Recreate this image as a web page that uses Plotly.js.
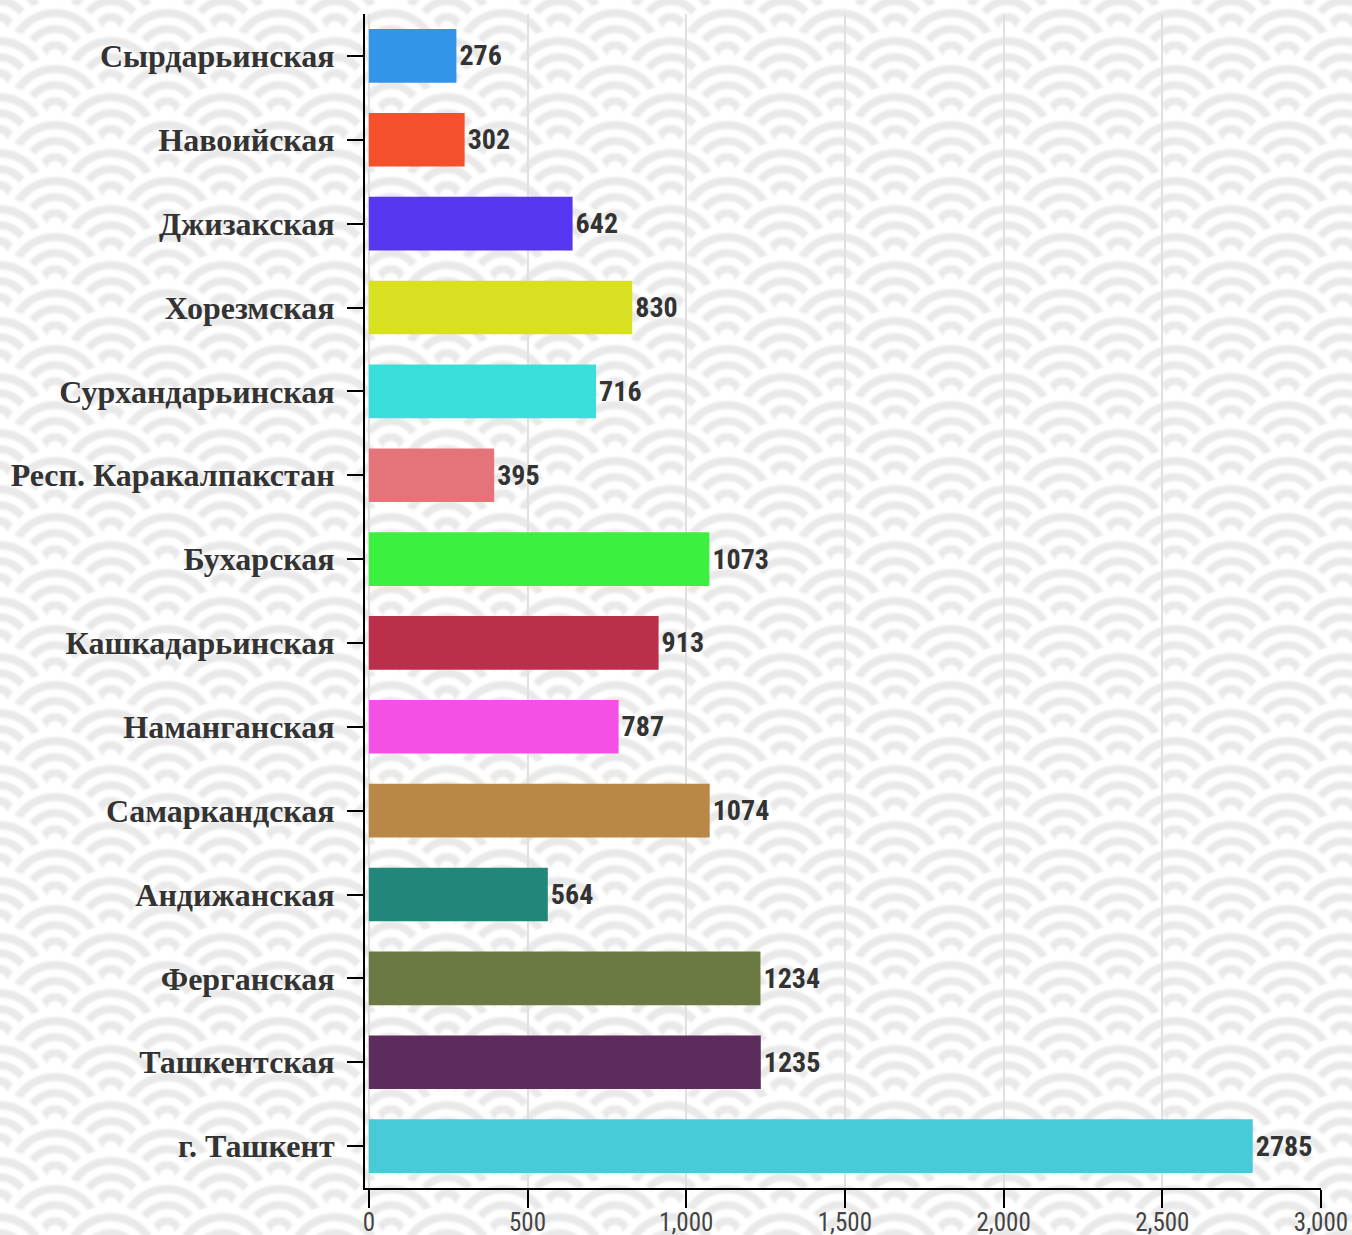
<!DOCTYPE html>
<html>
<head>
<meta charset="utf-8">
<script src="https://cdn.plot.ly/plotly-3.0.1.min.js"></script>
<style>
  html, body { margin: 0; padding: 0; background: #fafafa; }
  body { width: 1352px; height: 1235px; overflow: hidden; position: relative; }
  #bgwrap { position: absolute; left: 0; top: 0; width: 1352px; height: 1235px; overflow: hidden; }
  #bg { position: absolute; left: -4px; top: -4px; width: 1360px; height: 1243px; filter: blur(0.9px); }
  #chart { position: absolute; left: 0; top: 0; width: 1352px; height: 1235px; }
</style>
</head>
<body>
<div id="bgwrap"><div id="bg"></div></div>
<div id="chart"></div>
<script>
const categories = [
  "Сырдарьинская", "Навоийская", "Джизакская", "Хорезмская", "Сурхандарьинская",
  "Респ. Каракалпакстан", "Бухарская", "Кашкадарьинская", "Наманганская",
  "Самаркандская", "Андижанская", "Ферганская", "Ташкентская", "г. Ташкент"
];
const values = [276, 302, 642, 830, 716, 395, 1073, 913, 787, 1074, 564, 1234, 1235, 2785];
const barColors = [
  "#3395e8", "#f5502c", "#5636ee", "#d9e022", "#3adfdb", "#e5737a", "#3cf040",
  "#bb2f4a", "#f550e5", "#b98846", "#22877a", "#6b7a42", "#5c2c5c", "#48cbd8"
];
const xTickVals = [0, 500, 1000, 1500, 2000, 2500, 3000];
const xTickText = ["0", "500", "1,000", "1,500", "2,000", "2,500", "3,000"];

// Seigaiha background pattern (decorative)
(function () {
  const W = 112, H = 56, R = 56, band = 8;
  const gray = "#e9e9e9", white = "#ffffff";
  const centers = [[0,0],[W,0],[W/2,H/2],[0,H],[W,H],[W/2,H*1.5],[0,H*2],[W,H*2]];
  let s = `<svg xmlns='http://www.w3.org/2000/svg' width='${W}' height='${H}'>`;
  for (const [cx, cy] of centers) {
    for (let r = R, k = 0; r > 0; r -= band, k++) {
      s += `<circle cx='${cx}' cy='${cy}' r='${r}' fill='${k % 2 === 0 ? white : gray}'/>`;
    }
  }
  s += `</svg>`;
  const bg = document.getElementById("bg");
  bg.style.backgroundImage = `url("data:image/svg+xml,${encodeURIComponent(s)}")`;
  bg.style.backgroundPosition = "59px 5px";
})();

const condensed = "'Roboto Condensed', 'Liberation Sans Narrow', 'DejaVu Sans Condensed', Roboto, sans-serif";

const trace = {
  type: "bar",
  orientation: "h",
  y: categories,
  x: values,
  marker: { color: barColors },
  text: values.map(String),
  textposition: "outside",
  cliponaxis: false,
  textfont: { family: condensed, size: 28, weight: "bold", color: "#333333" },
  hoverinfo: "x+y"
};

const layout = {
  width: 1352,
  height: 1235,
  margin: { l: 365, r: 31, t: 14, b: 47 },
  paper_bgcolor: "rgba(0,0,0,0)",
  plot_bgcolor: "rgba(0,0,0,0)",
  showlegend: false,
  bargap: 0.36,
  xaxis: {
    range: [-12, 3000],
    tickvals: xTickVals,
    ticktext: xTickText,
    showgrid: true,
    gridcolor: "#e0e0e0",
    gridwidth: 2,
    zeroline: false,
    showline: true,
    linecolor: "#000000",
    linewidth: 2,
    ticks: "outside",
    ticklen: 18,
    tickwidth: 2,
    tickcolor: "#000000",
    ticklabelstandoff: -7,
    tickfont: { family: condensed, size: 25, color: "#444444" },
    fixedrange: true
  },
  yaxis: {
    autorange: "reversed",
    showgrid: false,
    zeroline: false,
    showline: true,
    linecolor: "#000000",
    linewidth: 2,
    ticks: "outside",
    ticklen: 16,
    tickwidth: 2,
    tickcolor: "#000000",
    ticklabelstandoff: 6,
    tickfont: { family: "'Liberation Serif', 'Times New Roman', serif", size: 32, weight: "bold", color: "#333333" },
    fixedrange: true
  }
};

Plotly.newPlot("chart", [trace], layout, { displayModeBar: false, staticPlot: true });
</script>
</body>
</html>
